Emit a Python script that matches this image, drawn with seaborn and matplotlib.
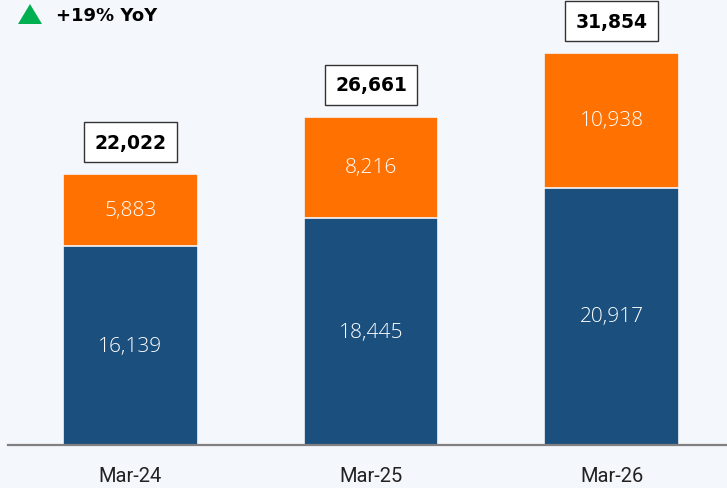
import matplotlib
matplotlib.use("Agg")
import matplotlib.pyplot as plt
from matplotlib.patches import Polygon
import seaborn as sns
import pandas as pd

# Data
categories = ["Mar-24", "Mar-25", "Mar-26"]
base_values = [16139, 18445, 20917]
added_values = [5883, 8216, 10938]
total_labels = [22022, 26661, 31854]
growth_text = "+19% YoY"

BG = "#f4f7fc"
NAVY = "#1b4f7d"
ORANGE = "#ff7100"

sns.set_theme(style="white")
plt.rcParams["font.family"] = ["DejaVu Sans"]

df = pd.DataFrame({
    "period": categories,
    "base": base_values,
    "added": added_values,
})
df["stack_top"] = df["base"] + df["added"]

fig = plt.figure(figsize=(7.27, 4.89), dpi=100, facecolor=BG)
ax = fig.add_axes([8 / 727, 43 / 489, 719 / 727, 446 / 489])
ax.set_facecolor(BG)

# Upper segment drawn as the full stack height, lower segment over it
sns.barplot(data=df, x="period", y="stack_top", color=ORANGE, width=0.56,
            edgecolor=BG, linewidth=1.2, saturation=1, ax=ax)
sns.barplot(data=df, x="period", y="base", color=NAVY, width=0.56,
            edgecolor=BG, linewidth=1.2, saturation=1, ax=ax)

ax.set_xlim(-0.509, 2.48)
ax.set_ylim(0, 36243)

seg_font = dict(color="white", fontsize=15, fontweight="light",
                family=["Open Sans", "DejaVu Sans"])
for i, (b, a) in enumerate(zip(base_values, added_values)):
    ax.text(i, b / 2, f"{b:,}", ha="center", va="center", **seg_font)
    ax.text(i, b + a / 2, f"{a:,}", ha="center", va="center", **seg_font)

for i, (b, a, t) in enumerate(zip(base_values, added_values, total_labels)):
    ax.annotate(f"{t:,}", xy=(i, b + a), xytext=(0, 23),
                textcoords="offset points", ha="center", va="center",
                fontsize=13.5, fontweight="bold", color="black",
                bbox=dict(boxstyle="square,pad=0.55", fc="white",
                          ec="#333333", lw=1.0))

for side in ["top", "right", "left"]:
    ax.spines[side].set_visible(False)
ax.spines["bottom"].set_color("#808080")
ax.spines["bottom"].set_linewidth(1.6)
ax.set_yticks([])
ax.set_xlabel("")
ax.set_ylabel("")
ax.tick_params(axis="x", length=0, pad=15)
for lbl in ax.get_xticklabels():
    lbl.set_fontfamily(["Liberation Sans Narrow", "Roboto", "DejaVu Sans"])
    lbl.set_fontsize(14.5)
    lbl.set_color("#222222")

# Growth marker in the top-left corner
tri = Polygon([[18 / 727, 1 - 25 / 489], [42 / 727, 1 - 25 / 489],
               [30 / 727, 1 - 5 / 489]], closed=True,
              transform=fig.transFigure, facecolor="#00b050", edgecolor="none")
fig.add_artist(tri)
fig.text(56 / 727, 1 - 16 / 489, growth_text, ha="left", va="center",
         fontsize=13, fontweight="bold", color="black")

fig.savefig("out.png", dpi=100, facecolor=BG)
